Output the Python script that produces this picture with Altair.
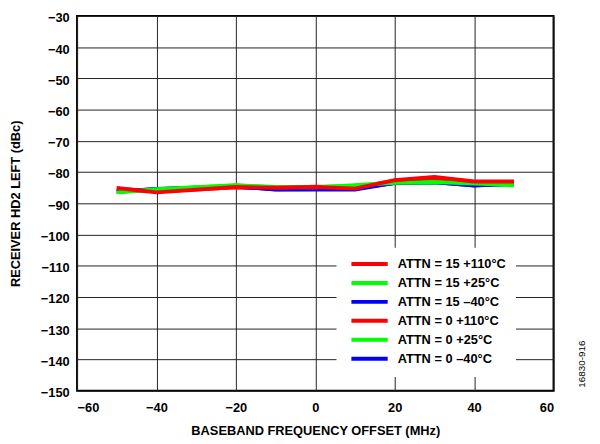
import altair as alt
import pandas as pd

freq = [-50, -40, -20, -10, 0, 10, 20, 30, 40, 50]

series_names = [
    "ATTN = 15 +110°C",
    "ATTN = 15 +25°C",
    "ATTN = 15 –40°C",
    "ATTN = 0 +110°C",
    "ATTN = 0 +25°C",
    "ATTN = 0 –40°C",
]
colors = ["#ff0000", "#00ff00", "#0000ff", "#ff0000", "#00ff00", "#0000ff"]
widths = [4, 4, 3.5, 1.3, 1.3, 1.3]

attn15_110 = [-85.1, -86.5, -84.8, -85.0, -84.8, -85.3, -82.6, -81.6, -83.0, -83.0]
attn15_25 = [-86.5, -85.5, -84.2, -84.8, -84.9, -84.2, -83.4, -83.2, -83.7, -84.1]
attn15_m40 = [-86.3, -85.4, -84.6, -85.6, -85.6, -85.6, -83.4, -83.2, -84.3, -83.7]
attn0_110 = [-85.3, -86.2, -84.9, -85.1, -84.7, -85.0, -82.8, -81.9, -83.2, -83.2]
attn0_25 = [-86.4, -85.6, -84.3, -84.9, -84.8, -84.4, -83.5, -83.3, -83.8, -84.2]
attn0_m40 = [-86.2, -85.5, -84.7, -85.5, -85.4, -85.3, -83.5, -83.3, -84.2, -83.8]

values = [attn15_110, attn15_25, attn15_m40, attn0_110, attn0_25, attn0_m40]

# draw thin lines first, thick on top (red thick last)
draw_order = [5, 4, 3, 2, 1, 0]
rows = []
for k, idx in enumerate(draw_order):
    for f, v in zip(freq, values[idx]):
        rows.append({"freq": f, "val": v, "series": series_names[idx], "ord": k})
df = pd.DataFrame(rows)

font = "Liberation Sans"

legend_cfg = dict(
    title=None, orient="none", legendX=263, legendY=235,
    symbolType="M-4.6,0H4.6", symbolSize=64, symbolOffset=17,
    symbolStrokeWidth=alt.ExprRef(expr="indexof(datum.value, 'ATTN = 15') == 0 ? 4 : 1.4"),
    labelFont=font, labelFontWeight="bold", labelFontSize=13,
    labelColor="#000000",
    fillColor="#ffffff", padding=10, rowPadding=2.2,
    labelOffset=22, labelLimit=300,
)

lines = alt.Chart(df).mark_line(clip=True).encode(
    x=alt.X("freq:Q",
            scale=alt.Scale(domain=[-60, 60], nice=False),
            axis=alt.Axis(values=[-60, -40, -20, 0, 20, 40, 60],
                          title="BASEBAND FREQUENCY OFFSET (MHz)")),
    y=alt.Y("val:Q",
            scale=alt.Scale(domain=[-150, -30], nice=False),
            axis=alt.Axis(values=list(range(-150, -29, 10)),
                          title="RECEIVER HD2 LEFT (dBc)")),
    color=alt.Color("series:N",
                    scale=alt.Scale(domain=series_names, range=colors),
                    legend=alt.Legend(**legend_cfg)),
    strokeWidth=alt.StrokeWidth("series:N",
                                scale=alt.Scale(domain=series_names, range=widths),
                                legend=None),
    detail="series:N",
    order="ord:Q",
)

note = alt.Chart(pd.DataFrame({"t": ["16830-916"]})).mark_text(
    angle=270, font=font, fontSize=10, color="#000000", align="left", baseline="middle"
).encode(text="t:N", x=alt.value(512), y=alt.value(377))

chart = alt.layer(lines, note).properties(
    width=483, height=380,
    autosize=alt.AutoSizeParams(type="none"),
    padding={"left": 70, "top": 5, "right": 39, "bottom": 51},
).configure_view(
    stroke="#000000", strokeWidth=2
).configure_axis(
    grid=True, gridColor="#222222", gridWidth=1, gridOpacity=1,
    domain=False, ticks=False,
    labelFont=font, labelFontWeight="bold", labelFontSize=13, labelColor="#000000",
    titleFont=font, titleFontWeight="bold", titleFontSize=13, titleColor="#000000",
    labelPadding=8,
).configure_axisY(
    titlePadding=18, labelOffset=2
).configure_axisX(
    titlePadding=10, labelPadding=11
)

chart.save("out.html", embed_options={"renderer": "svg", "actions": False})
